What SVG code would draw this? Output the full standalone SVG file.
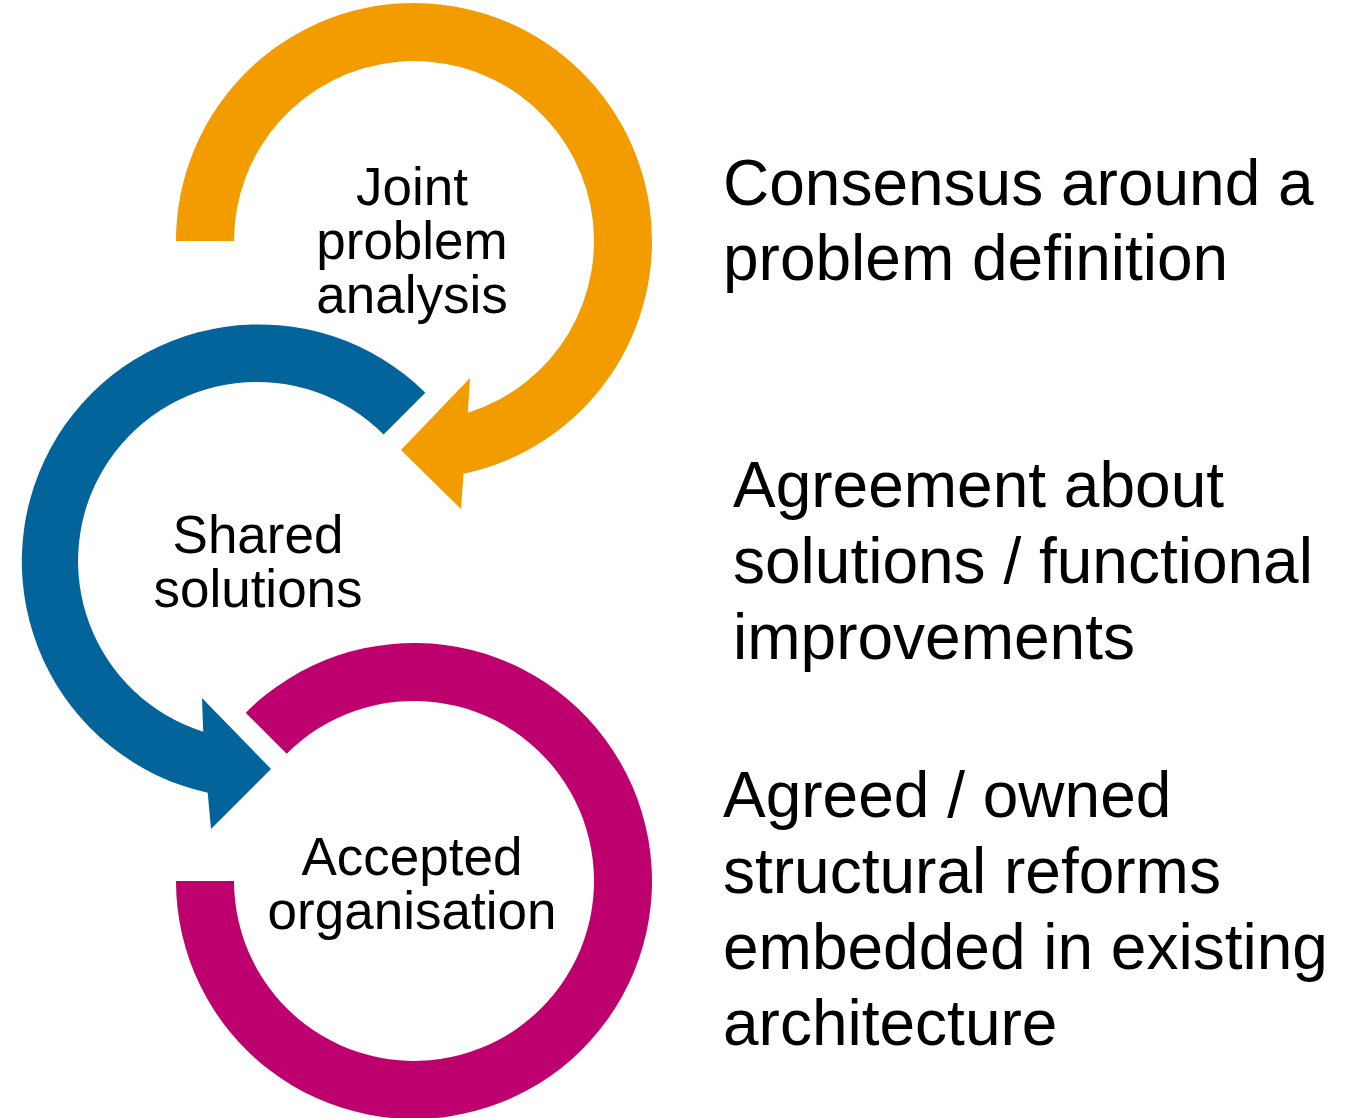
<svg xmlns="http://www.w3.org/2000/svg" width="1357" height="1118" viewBox="0 0 1357 1118">
<style>
.lbl{font-family:"Liberation Sans",Arial,sans-serif;font-size:53px;fill:#000;text-anchor:middle}
.side{font-family:"Liberation Sans",Arial,sans-serif;font-size:64px;fill:#000}
</style>
<rect width="1357" height="1118" fill="#fff"/>
<g id="connectors">
<path id="arrow-orange" fill="#F39C00" d="M176,241 A238,238 0 1 1 463.5,473.8 L461,509 L401,450 L470,378 L467.8,412.8 A180,180 0 1 0 234,241 Z"/>
<path id="arrow-blue" fill="#02649A" d="M425.3,392.7 A237,237 0 1 0 207.7,792.8 L211,829 L271,769 L202,698 L203.2,731.7 A179,179 0 1 1 383.6,434.4 Z"/>
<path id="ring-magenta" fill="#BE006E" d="M176,881 A238,238 0 1 0 245.7,712.7 L286.7,753.7 A180,180 0 1 1 234,881 Z"/>
</g>
<g id="node-joint">
<text class="lbl" x="412" y="205">Joint</text>
<text class="lbl" x="412" y="259">problem</text>
<text class="lbl" x="412" y="313">analysis</text>
</g>
<g id="node-shared">
<text class="lbl" x="258" y="553">Shared</text>
<text class="lbl" x="258" y="607">solutions</text>
</g>
<g id="node-accepted">
<text class="lbl" x="412" y="875">Accepted</text>
<text class="lbl" x="412" y="929">organisation</text>
</g>
<g id="desc-1">
<text class="side" x="723" y="205">Consensus around a</text>
<text class="side" x="723" y="280">problem definition</text>
</g>
<g id="desc-2">
<text class="side" x="733" y="507">Agreement about</text>
<text class="side" x="733" y="583">solutions / functional</text>
<text class="side" x="733" y="659">improvements</text>
</g>
<g id="desc-3">
<text class="side" x="723" y="817">Agreed / owned</text>
<text class="side" x="723" y="893">structural reforms</text>
<text class="side" x="723" y="969">embedded in existing</text>
<text class="side" x="723" y="1045">architecture</text>
</g>
</svg>
